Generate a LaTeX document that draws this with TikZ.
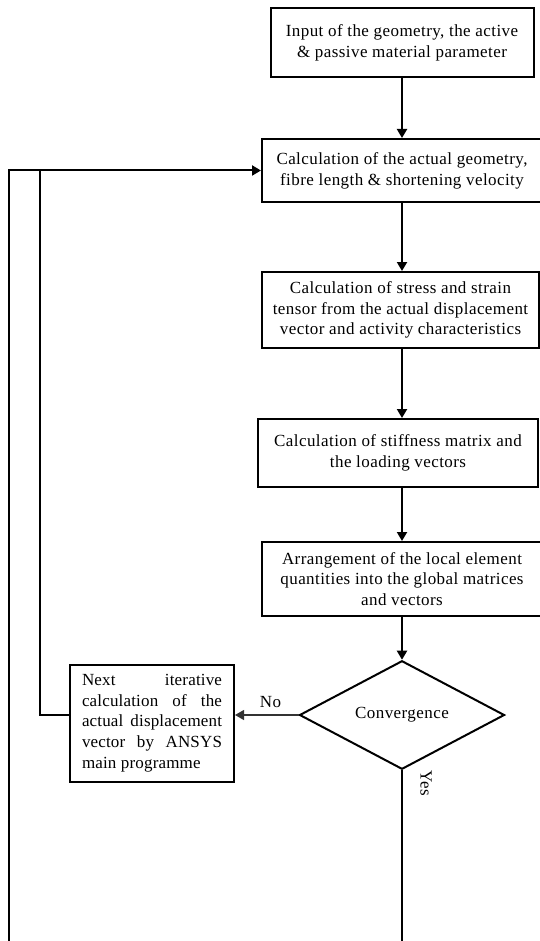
\documentclass[tikz,border=0pt]{standalone}
\usepackage{fontspec}
\setmainfont[LetterSpace=2.5]{Liberation Serif}
\newfontfamily\nxfont[LetterSpace=1]{Liberation Serif}
\usetikzlibrary{arrows.meta,shapes.geometric}
\begin{document}
\begin{tikzpicture}[x=1pt,y=-1pt,
  every node/.style={font=\fontsize{17}{20.8}\selectfont, inner sep=0pt},
  stepbox/.style={draw, line width=2pt, align=center},
  flow/.style={line width=2pt, -{Triangle[width=10pt,length=9pt]}},
  plainline/.style={line width=2pt},
  thinflow/.style={line width=1.1pt, draw=black!80, -{Triangle[width=10pt,length=9pt]}}]
\useasboundingbox (0,0) rectangle (540,941);
\node[stepbox, minimum width=263pt, minimum height=68.4pt] (b1) at (402,42.5)
  {Input of the geometry, the active\\ \& passive material parameter};
\node[stepbox, minimum width=280pt, minimum height=63pt] (b2) at (402,170.5)
  {Calculation of the actual geometry,\\ fibre length \& shortening velocity};
\node[stepbox, minimum width=277pt, minimum height=76pt] (b3) at (400.5,310)
  {Calculation of stress and strain\\ tensor from the actual displacement\\ vector and activity characteristics};
\node[stepbox, minimum width=280pt, minimum height=68pt] (b4) at (398,453)
  {Calculation of stiffness matrix and\\ the loading vectors};
\node[stepbox, minimum width=280pt, minimum height=74pt] (b5) at (402,579)
  {Arrangement of the local element\\ quantities into the global matrices\\ and vectors};
\node[draw, diamond, line width=2pt, minimum width=205pt, minimum height=77pt] (dia) at (402,715)
  {Convergence};
\node[stepbox, minimum width=164pt, minimum height=117pt] (nx) at (152,723)
  {\nxfont\parbox{140pt}{\makebox[\linewidth][s]{Next iterative}\\
   \makebox[\linewidth][s]{calculation of the}\\
   \makebox[\linewidth][s]{actual displacement}\\
   \makebox[\linewidth][s]{vector by ANSYS}\\
   main programme}};
\node (no) at (270.5,702) {No};
\node[rotate=-90] (yes) at (426,783) {Yes};
\coordinate (bot) at (9,941);
\coordinate (inner) at (40,171);
\draw[flow] (b1.south) -- (b1.south |- b2.north);
\draw[flow] (b1.south |- b2.south) -- (b1.south |- b3.north);
\draw[flow] (b1.south |- b3.south) -- (b1.south |- b4.north);
\draw[flow] (b1.south |- b4.south) -- (b1.south |- b5.north);
\draw[flow] (dia.north |- b5.south) -- (dia.north);
\draw[thinflow] (dia.west) -- (nx.east |- dia.west);
\draw[plainline] (dia.south) -- (dia.south |- bot);
\draw[flow] (bot) -- (bot |- b2.west) -- (b2.west);
\draw[plainline] (nx.west |- dia.west) -- (inner |- dia.west) -- (inner);
\end{tikzpicture}
\end{document}
